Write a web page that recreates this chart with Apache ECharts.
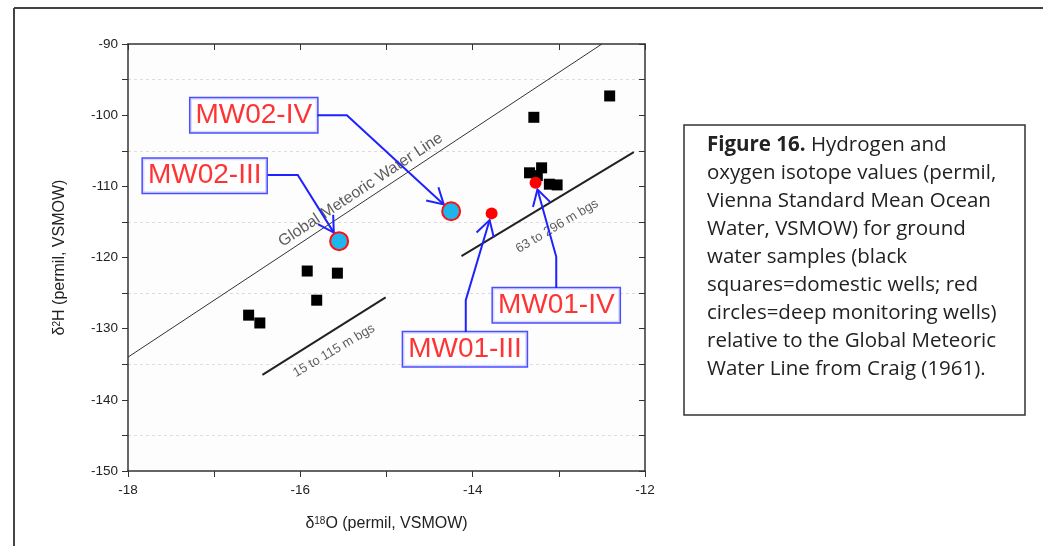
<!DOCTYPE html>
<html>
<head>
<meta charset="utf-8">
<script src="https://cdn.jsdelivr.net/npm/echarts@6/dist/echarts.min.js"></script>
<style>
  html, body { margin: 0; padding: 0; background: #ffffff; }
  #chart { width: 1043px; height: 546px; }
</style>
</head>
<body>
<div id="chart"></div>
<script>
// Domestic wells (black squares): delta-18O and delta-2H, permil VSMOW
const domesticO = [-16.60, -16.47, -15.92, -15.81, -15.57, -13.29, -12.41, -13.34, -13.20, -13.25, -13.11, -13.02];
const domesticH = [-128.1, -129.2, -121.9, -126.0, -122.2, -100.3, -97.3, -108.1, -107.4, -108.5, -109.7, -109.8];

// Deep monitoring wells (MW02 drawn as cyan circles, MW01 as red dots)
const wellNames = ['MW02-III', 'MW02-IV', 'MW01-III', 'MW01-IV'];
const wellO = [-15.55, -14.25, -13.78, -13.27];
const wellH = [-117.7, -113.5, -113.8, -109.5];

// Callout boxes: centre of the box, where the leader leaves it, and its bend
const calloutBox   = [[-17.11, -108.5], [-16.54, -100.0], [-14.09, -132.9], [-13.03, -126.7]];
const calloutStart = [[-16.38, -108.4], [-15.81, -100.0], [-14.08, -130.5], [-13.03, -124.3]];
const calloutBend  = [[-16.03, -108.4], [-15.46, -100.0], [-14.08, -126.0], [-13.03, -119.9]];

// Global Meteoric Water Line (Craig, 1961) end points
const gmwlO = [-18, -12.5];
const gmwlH = [-134, -90];

// Depth-range guide segments
const shallowO = [-16.44, -15.01];
const shallowH = [-136.5, -125.6];
const deepO = [-14.13, -12.13];
const deepH = [-119.8, -105.2];

// Line captions: text, position, angle
const lineTexts = ['Global Meteoric Water Line', '15 to 115 m bgs', '63 to 296 m bgs'];
const lineTextO = [-15.30, -15.61, -13.02];
const lineTextH = [-110.5, -133.1, -115.6];
const lineTextAngle = [33.5, 30.5, 30.5];
const lineTextSize = [16, 13, 13];

// Axis ranges
const xMin = -18, xMax = -12, yMin = -150, yMax = -90;

const captionLines = [
  '{b|Figure 16.} Hydrogen and',
  'oxygen isotope values (permil,',
  'Vienna Standard Mean Ocean',
  'Water, VSMOW) for ground',
  'water samples (black',
  'squares=domestic wells; red',
  'circles=deep monitoring wells)',
  'relative to the Global Meteoric',
  'Water Line from Craig (1961).'
];

const FONT = '"Liberation Sans", Arial, sans-serif';
const CAPTION_FONT = '"Open Sans", Lato, sans-serif';
const wellSize = [18, 18, 12, 12];
const BLUE = '#1e22ff';

const chart = echarts.init(document.getElementById('chart'), null, { renderer: 'canvas' });

const tickLabel = { color: '#222', fontSize: 13.5, fontFamily: FONT };

function pairs(xs, ys) { return xs.map((x, i) => [x, ys[i]]); }

const option = {
  backgroundColor: '#ffffff',
  animation: false,
  grid: { left: 128, top: 44, right: 398, bottom: 75, show: true, backgroundColor: '#fdfdfd', borderWidth: 0 },
  xAxis: [
    {
      type: 'value', position: 'bottom', min: xMin, max: xMax, interval: 1,
      axisLine: { show: true, onZero: false, lineStyle: { color: '#333', width: 1.5 } },
      axisTick: { show: true, inside: false, length: 6, lineStyle: { color: '#333' } },
      axisLabel: Object.assign({ margin: 12, formatter: v => (v % 2 === 0 ? String(v) : '') }, tickLabel),
      splitLine: { show: false },
      name: '{d|δ}{s|18}{n|O (permil, VSMOW)}',
      nameLocation: 'middle', nameGap: 45,
      nameTextStyle: {
        fontFamily: FONT, color: '#222',
        rich: {
          d: { fontSize: 16, fontFamily: FONT, color: '#222' },
          s: { fontSize: 10, fontFamily: FONT, color: '#222', verticalAlign: 'top', padding: [0, 0, 6, 0] },
          n: { fontSize: 16, fontFamily: FONT, color: '#222' }
        }
      }
    },
    {
      type: 'value', position: 'top', min: xMin, max: xMax, interval: 1,
      axisLine: { show: true, onZero: false, lineStyle: { color: '#333', width: 1.5 } },
      axisTick: { show: true, inside: true, length: 6, lineStyle: { color: '#333' } },
      axisLabel: { show: false },
      splitLine: { show: false }
    }
  ],
  yAxis: [
    {
      type: 'value', position: 'left', min: yMin, max: yMax, interval: 5,
      axisLine: { show: true, onZero: false, lineStyle: { color: '#333', width: 1.5 } },
      axisTick: { show: true, inside: false, length: 6, lineStyle: { color: '#333' } },
      axisLabel: Object.assign({ margin: 10, formatter: v => (v % 10 === 0 ? String(v) : '') }, tickLabel),
      splitLine: { show: true, lineStyle: { color: ['rgba(0,0,0,0)', '#dddddd'], type: [3, 3], width: 1 } },
      name: '{d|δ}{s|2}{n|H (permil, VSMOW)}',
      nameLocation: 'middle', nameGap: 60, nameRotate: 90,
      nameTextStyle: {
        fontFamily: FONT, color: '#222',
        rich: {
          d: { fontSize: 16, fontFamily: FONT, color: '#222' },
          s: { fontSize: 10, fontFamily: FONT, color: '#222', verticalAlign: 'top', padding: [0, 0, 6, 0] },
          n: { fontSize: 16, fontFamily: FONT, color: '#222' }
        }
      }
    },
    {
      type: 'value', position: 'right', min: yMin, max: yMax, interval: 5,
      axisLine: { show: true, onZero: false, lineStyle: { color: '#333', width: 1.5 } },
      axisTick: { show: true, inside: true, length: 6, lineStyle: { color: '#333' } },
      axisLabel: { show: false },
      splitLine: { show: false }
    }
  ],
  series: [
    {
      name: 'GMWL', type: 'line', data: pairs(gmwlO, gmwlH), symbol: 'none', silent: true,
      lineStyle: { color: '#333', width: 1 }, z: 2
    },
    {
      name: 'shallow', type: 'line', data: pairs(shallowO, shallowH), symbol: 'none', silent: true,
      lineStyle: { color: '#222', width: 2 }, z: 2
    },
    {
      name: 'deep', type: 'line', data: pairs(deepO, deepH), symbol: 'none', silent: true,
      lineStyle: { color: '#222', width: 2 }, z: 2
    },
    {
      name: 'line captions', type: 'scatter', symbolSize: 0.1, silent: true, z: 3,
      itemStyle: { color: 'rgba(0,0,0,0)' },
      data: lineTexts.map((t, i) => ({
        value: [lineTextO[i], lineTextH[i]],
        label: {
          show: true, position: 'inside', formatter: t, rotate: lineTextAngle[i],
          fontSize: lineTextSize[i], fontFamily: FONT, color: '#333'
        }
      }))
    },
    {
      name: 'domestic wells', type: 'scatter', symbol: 'rect', symbolSize: 11,
      itemStyle: { color: '#000', opacity: 1 }, data: pairs(domesticO, domesticH), z: 4
    },
    {
      name: 'leaders', type: 'custom', z: 5, silent: true, clip: false,
      data: pairs(wellO, wellH),
      renderItem: function (params, api) {
        const i = params.dataIndex;
        const p0 = api.coord(calloutStart[i]);
        const p1 = api.coord(calloutBend[i]);
        const tgt = api.coord([api.value(0), api.value(1)]);
        const dx = tgt[0] - p1[0], dy = tgt[1] - p1[1];
        const len = Math.sqrt(dx * dx + dy * dy);
        const ux = dx / len, uy = dy / len;
        const r = wellSize[i] / 2 + 1;
        const tip = [tgt[0] - ux * r, tgt[1] - uy * r];
        const ang = Math.atan2(-uy, -ux);
        const armLen = 18, half = 30 * Math.PI / 180;
        const a1 = [tip[0] + armLen * Math.cos(ang + half), tip[1] + armLen * Math.sin(ang + half)];
        const a2 = [tip[0] + armLen * Math.cos(ang - half), tip[1] + armLen * Math.sin(ang - half)];
        const style = { stroke: BLUE, lineWidth: 2, fill: null };
        return {
          type: 'group',
          children: [
            { type: 'polyline', shape: { points: [p0, p1, tip] }, style: style },
            { type: 'polyline', shape: { points: [a1, tip, a2] }, style: style }
          ]
        };
      }
    },
    {
      name: 'monitoring wells', type: 'scatter', z: 6,
      data: wellNames.map((n, i) => ({
        name: n,
        value: [wellO[i], wellH[i]],
        symbolSize: wellSize[i],
        itemStyle: i < 2
          ? { color: '#1eb4ec', borderColor: '#ff1010', borderWidth: 2, opacity: 1 }
          : { color: '#ff0000', opacity: 1 }
      }))
    },
    {
      name: 'callouts', type: 'scatter', symbolSize: 0.1, silent: true, z: 7,
      itemStyle: { color: 'rgba(0,0,0,0)' },
      data: wellNames.map((n, i) => ({ name: n, value: calloutBox[i] })),
      label: {
        show: true, position: 'inside', formatter: '{b}',
        fontSize: 28, fontFamily: FONT, color: '#ff0000', lineHeight: 30,
        backgroundColor: '#ffffff', borderColor: BLUE, borderWidth: 1.5,
        padding: [3, 5, 1, 5]
      }
    }
  ],
  graphic: [
    { type: 'line', shape: { x1: 14, y1: 8, x2: 1043, y2: 8 }, style: { stroke: '#444', lineWidth: 2 } },
    { type: 'line', shape: { x1: 14, y1: 8, x2: 14, y2: 546 }, style: { stroke: '#444', lineWidth: 2 } },
    {
      type: 'rect', shape: { x: 684, y: 125, width: 341, height: 290 },
      style: { fill: '#ffffff', stroke: '#333', lineWidth: 1.5 }
    },
    {
      type: 'text', x: 707, y: 131,
      style: {
        text: captionLines.join('\n'),
        font: '20.5px ' + CAPTION_FONT,
        fill: '#222', lineHeight: 28,
        rich: {
          b: { fontWeight: 'bold', fontSize: 20.5, fontFamily: CAPTION_FONT, fill: '#222', lineHeight: 28 }
        }
      }
    }
  ]
};

chart.setOption(option);
</script>
</body>
</html>
